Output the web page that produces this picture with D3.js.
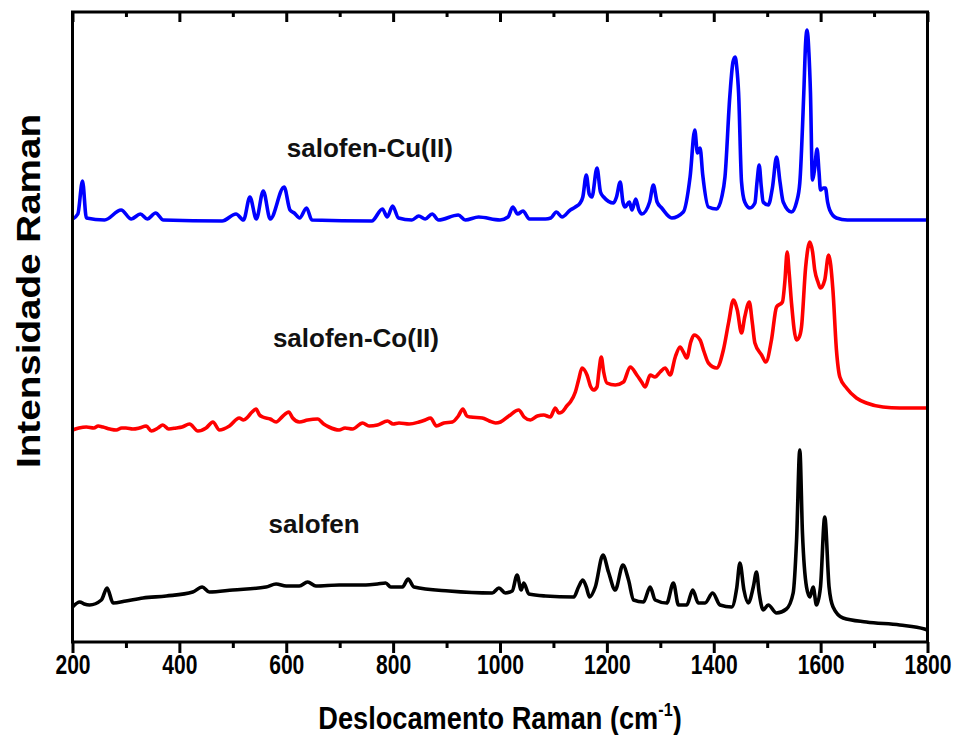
<!DOCTYPE html>
<html>
<head>
<meta charset="utf-8">
<script src="https://cdn.jsdelivr.net/npm/d3@7"></script>
<style>
  body { margin: 0; background: #fff; }
  #raman svg { display: block; }
</style>
</head>
<body>
<div id="raman"></div>
<script>
// Spectra: [wavenumber cm-1, intensity a.u.]
const cuSpectrum = [
  [200, 423], [210, 428], [218.7, 461], [226, 424], [260, 422], [291, 432], [310, 423],
  [327, 428], [340, 423], [355.6, 429], [370, 422], [480, 421], [506, 428], [520, 422],
  [532, 445], [544, 423], [557, 451], [570, 423], [596, 455], [607, 432], [615, 429],
  [625, 424], [638, 434], [648, 422], [760, 421], [780, 433], [789, 425], [799, 436],
  [810, 424], [835, 422], [848, 426], [860, 423], [873, 428], [885, 422], [922, 427],
  [935, 422], [960, 425], [1000, 422], [1015, 425], [1024, 435], [1033, 428], [1043, 431],
  [1055, 423], [1085, 423], [1095, 424], [1105.5, 430], [1116, 425], [1131.6, 432],
  [1141, 435], [1150, 439], [1155, 445], [1161.5, 467], [1167, 448], [1172, 445],
  [1181.5, 474], [1188, 450], [1194, 445], [1212.5, 439], [1218, 445], [1225, 460],
  [1230, 440], [1234, 435], [1242, 440], [1247, 432], [1254, 443], [1260, 432],
  [1265.5, 428], [1280, 440], [1287, 457], [1294, 440], [1302.6, 434], [1321.5, 424],
  [1343, 430], [1355.7, 465], [1364.5, 512], [1369.5, 489], [1374.4, 494], [1379.4, 467],
  [1390, 435], [1405.5, 433], [1415, 445], [1421, 465], [1430, 545], [1436, 580],
  [1440, 585], [1443, 575], [1446.5, 549], [1452, 460], [1458, 440], [1467.7, 434],
  [1477, 439], [1481, 460], [1485, 477], [1489, 455], [1492.5, 440], [1502, 437],
  [1510, 455], [1517.5, 485], [1524, 460], [1530, 440], [1545.5, 430], [1555, 440],
  [1561, 459], [1568.5, 549], [1572, 600], [1574.7, 612], [1578, 590], [1581, 549],
  [1584.7, 462], [1588, 470], [1593.4, 493], [1597, 470], [1599.7, 452], [1605, 454],
  [1609, 454], [1613, 440], [1617, 432], [1629.6, 424], [1650, 422], [1800, 422]
];

const coSpectrum = [
  [200, 212], [212, 214], [226, 215], [240, 214], [248, 216], [257, 215], [270, 213],
  [282, 212], [292, 214], [300, 214], [313, 213], [325, 214], [338, 216], [347.5, 211],
  [360, 214], [369, 217], [380, 213], [394, 214], [405, 215], [419, 218], [434.7, 211],
  [450, 214], [462.7, 220], [475, 212], [493.7, 216], [512, 224], [520, 222], [528, 225],
  [536, 230], [543.5, 233], [550, 227], [556, 225], [570, 223], [581, 220], [592, 225],
  [604.6, 230], [612, 224], [624.5, 220], [640, 222], [658.7, 223], [670, 218], [680, 215],
  [699, 212], [710, 214], [724, 213], [742.8, 219], [755, 216], [770.7, 217], [789.4, 221],
  [800, 218], [811, 219], [830, 218], [848.5, 220], [860, 222], [870, 224], [881, 216],
  [895, 219], [910.8, 220], [922, 226], [930.6, 233], [938, 226], [945, 225], [966.8, 224],
  [980, 221], [991.6, 219], [1001, 220], [1016.5, 226], [1035, 232], [1045, 225],
  [1057, 222], [1070, 226], [1081.8, 227], [1094, 225], [1103.6, 234], [1110, 229],
  [1116, 230], [1125, 236], [1131.6, 240], [1141, 250], [1147, 262], [1153.5, 274],
  [1162.8, 267], [1170, 255], [1175, 252], [1181.5, 255], [1185, 270], [1189.5, 285],
  [1194, 270], [1200, 259], [1215.7, 257], [1231, 260], [1243.7, 275], [1256, 267],
  [1265, 260], [1271.7, 255], [1281, 267], [1290, 265], [1299.7, 270], [1309, 274],
  [1318.4, 267], [1328, 285], [1337, 295], [1343, 290], [1349.5, 284], [1357, 300],
  [1363, 307], [1374.4, 302], [1382, 290], [1390, 279], [1405.5, 274], [1418, 292],
  [1428, 320], [1436.7, 342], [1444, 332], [1452, 309], [1458, 325], [1466.5, 340],
  [1472, 320], [1477, 299], [1489.5, 287], [1497.6, 280], [1508, 302], [1517.5, 335],
  [1528.6, 340], [1533, 360], [1537.4, 390], [1541, 370], [1545.5, 339], [1554.8, 302],
  [1560, 305], [1564.2, 315], [1572, 375], [1579.8, 400], [1585, 390], [1589, 372],
  [1595, 360], [1599.7, 354], [1607.7, 362], [1615, 387], [1623, 352], [1629.6, 292],
  [1636, 265], [1648.4, 254], [1667, 244], [1685.7, 239], [1716.8, 235], [1748, 234],
  [1791.5, 234], [1800, 234]
];

const ligandSpectrum = [
  [200, 35], [213.7, 40], [222, 38], [232, 37], [254, 42], [264.7, 54], [276, 39],
  [300, 41], [332, 44], [375.5, 46], [425, 50], [442.7, 55], [456, 50], [500, 52],
  [562, 55], [581, 58], [600, 56], [624.5, 56], [640, 60], [655.6, 56], [699, 57],
  [749, 57], [770.7, 58], [786, 59], [795.6, 55], [817.5, 55], [828, 63], [839, 55],
  [904.5, 51], [985.5, 49], [998, 54], [1010, 49], [1022.8, 51], [1032, 67], [1039.6, 52],
  [1044.5, 59], [1054, 48], [1085, 46], [1138, 45], [1147, 55], [1155, 62], [1161.5, 55],
  [1167.7, 45], [1178.3, 55], [1192.7, 87], [1203, 70], [1215.7, 52], [1230, 77],
  [1240.5, 62], [1250, 42], [1268.5, 40], [1281, 55], [1290.4, 42], [1312, 39],
  [1324.5, 59], [1334, 37], [1349.5, 37], [1360.7, 52], [1371, 39], [1383.7, 39],
  [1398, 49], [1411.7, 37], [1433.6, 35], [1443, 54], [1449, 79], [1456.5, 52],
  [1464.6, 39], [1474, 55], [1480, 70], [1485, 49], [1492.5, 32], [1502, 37],
  [1517.5, 29], [1536, 33], [1548.6, 49], [1555, 102], [1561, 192], [1566, 109],
  [1573.6, 55], [1579.8, 45], [1586, 55], [1592.3, 37], [1599.7, 55], [1607.7, 125],
  [1615.8, 55], [1623.3, 35], [1642, 24], [1685.6, 20], [1748, 17], [1794.5, 13],
  [1800, 12]
];

const seriesNames = ["salofen-Cu(II)", "salofen-Co(II)", "salofen"];
const seriesColors = ["#0000ff", "#ff0000", "#000000"];
// label anchor in data units [wavenumber, intensity]
const labelAnchors = [[601, 485], [575, 295], [567, 109]];
const majorTicks = [200, 400, 600, 800, 1000, 1200, 1400, 1600, 1800];
const minorTicks = [300, 500, 700, 900, 1100, 1300, 1500, 1700];
const xLabel = "Deslocamento Raman (cm";
const yLabel = "Intensidade Raman";

const drawRaman = () => {
  const root = d3.select("#raman");
  root.selectAll("*").remove();

  const W = 953, H = 735;
  const M = { top: 12, right: 25.5, bottom: 93, left: 72.5 };
  const innerW = W - M.left - M.right;
  const innerH = H - M.top - M.bottom;

  const x = d3.scaleLinear().domain([200, 1800]).range([0, innerW]);
  const y = d3.scaleLinear().domain([0, 630]).range([innerH, 0]);

  const svg = root.append("svg")
    .attr("width", W)
    .attr("height", H)
    .attr("viewBox", `0 0 ${W} ${H}`);

  const g = svg.append("g")
    .attr("transform", `translate(${M.left}, ${M.top})`);

  const font = "'Liberation Sans', Arial, sans-serif";

  // Spectra
  const line = d3.line()
    .x(d => x(d[0]))
    .y(d => y(d[1]))
    .curve(d3.curveMonotoneX);

  const spectra = [cuSpectrum, coSpectrum, ligandSpectrum];
  g.selectAll("path.spectrum")
    .data(spectra)
    .join("path")
    .attr("class", "spectrum")
    .attr("fill", "none")
    .attr("stroke", (d, i) => seriesColors[i])
    .attr("stroke-width", 3.6)
    .attr("stroke-linejoin", "round")
    .attr("d", line);

  // Labels over each spectrum
  g.selectAll("text.series-label")
    .data(seriesNames)
    .join("text")
    .attr("class", "series-label")
    .attr("x", (d, i) => x(labelAnchors[i][0]))
    .attr("y", (d, i) => y(labelAnchors[i][1]))
    .attr("font-family", font)
    .attr("font-weight", "bold")
    .attr("font-size", 26)
    .attr("fill", "#111")
    .text(d => d);

  // Bottom axis (outward ticks)
  const xAxis = d3.axisBottom(x)
    .tickValues(majorTicks)
    .tickSize(11)
    .tickPadding(2)
    .tickFormat(d3.format("d"));
  const xMinor = d3.axisBottom(x)
    .tickValues(minorTicks)
    .tickSize(6)
    .tickFormat("");

  const bottom = g.append("g")
    .attr("transform", `translate(0, ${innerH})`)
    .call(xAxis);
  g.append("g")
    .attr("transform", `translate(0, ${innerH})`)
    .call(xMinor);

  // Top axis (inward ticks, no labels)
  g.append("g")
    .call(d3.axisTop(x).tickValues(majorTicks).tickSize(-10).tickFormat(""));
  g.append("g")
    .call(d3.axisTop(x).tickValues(minorTicks).tickSize(-5).tickFormat(""));

  g.selectAll(".domain").remove();
  g.selectAll(".tick line").attr("stroke", "#000").attr("stroke-width", 3);

  // narrow bold look for tick labels
  bottom.selectAll(".tick text")
    .attr("font-family", font)
    .attr("font-weight", "bold")
    .attr("font-size", 27)
    .attr("fill", "#000")
    .attr("transform", "scale(0.78, 1)");

  // Frame
  g.append("rect")
    .attr("width", innerW)
    .attr("height", innerH)
    .attr("fill", "none")
    .attr("stroke", "#000")
    .attr("stroke-width", 3);

  // Axis titles
  const xt = svg.append("g")
    .attr("transform", `translate(${M.left + innerW / 2}, 729) scale(0.85, 1)`)
    .append("text")
    .attr("text-anchor", "middle")
    .attr("font-family", font)
    .attr("font-weight", "bold")
    .attr("font-size", 32)
    .text(xLabel);
  xt.append("tspan")
    .attr("font-size", 19)
    .attr("dy", -13)
    .text("-1");
  xt.append("tspan")
    .attr("dy", 13)
    .text(")");

  // y title is stretched along its length like the source figure
  svg.append("text")
    .attr("transform", `translate(40, 291) rotate(-90) scale(1.17, 1)`)
    .attr("text-anchor", "middle")
    .attr("font-family", font)
    .attr("font-weight", "bold")
    .attr("font-size", 33)
    .text(yLabel);
};

drawRaman();
</script>
</body>
</html>
